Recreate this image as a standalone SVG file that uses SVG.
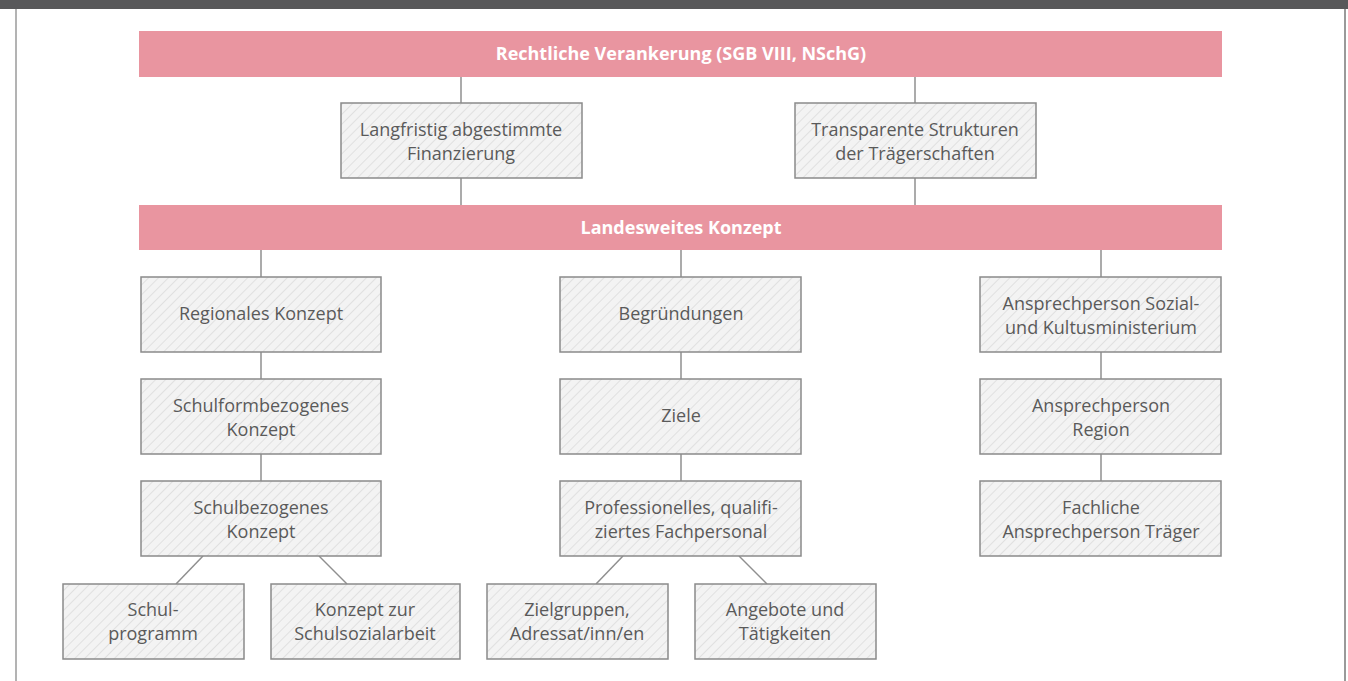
<svg xmlns="http://www.w3.org/2000/svg" width="1348" height="681" viewBox="0 0 1348 681">
<defs>
<pattern id="hatch" patternUnits="userSpaceOnUse" width="7" height="7" patternTransform="rotate(45)">
<rect width="7" height="7" fill="#f3f3f3"/>
<line x1="0" y1="0" x2="0" y2="7" stroke="#dcdcdc" stroke-width="1.6"/>
</pattern>
</defs>
<style>
.bar{fill:#e995a0}
.box{fill:url(#hatch);stroke:#8a8a8a;stroke-width:1.5}
.t{font-family:"Open Sans","Noto Sans",sans-serif;font-size:18px;fill:#5a5a5a;text-anchor:middle}
.bt{font-family:"Open Sans","Noto Sans",sans-serif;font-size:18px;font-weight:bold;fill:#ffffff;text-anchor:middle}
.c{stroke:#8f8f8f;stroke-width:1.5;fill:none}
</style>
<rect x="0" y="0" width="1348" height="681" fill="#ffffff"/>
<rect x="0" y="0" width="1348" height="9" fill="#58585a"/>
<rect x="15" y="9" width="2" height="672" fill="#b3b3b3"/>
<rect x="1344" y="9" width="2" height="672" fill="#9a9a9a"/>
<g id="connectors">
<line class="c" x1="461" y1="77" x2="461" y2="103"/>
<line class="c" x1="915" y1="77" x2="915" y2="103"/>
<line class="c" x1="461" y1="178" x2="461" y2="205"/>
<line class="c" x1="915" y1="178" x2="915" y2="205"/>
<line class="c" x1="261" y1="250" x2="261" y2="277"/>
<line class="c" x1="681" y1="250" x2="681" y2="277"/>
<line class="c" x1="1101" y1="250" x2="1101" y2="277"/>
<line class="c" x1="261" y1="352" x2="261" y2="379"/>
<line class="c" x1="261" y1="454" x2="261" y2="481"/>
<line class="c" x1="681" y1="352" x2="681" y2="379"/>
<line class="c" x1="681" y1="454" x2="681" y2="481"/>
<line class="c" x1="1101" y1="352" x2="1101" y2="379"/>
<line class="c" x1="1101" y1="454" x2="1101" y2="481"/>
<line class="c" x1="203" y1="556" x2="176" y2="584"/>
<line class="c" x1="319" y1="556" x2="347" y2="584"/>
<line class="c" x1="623" y1="556" x2="596" y2="584"/>
<line class="c" x1="739" y1="556" x2="767" y2="584"/>
</g>
<g id="n-recht"><rect class="bar" x="139" y="31" width="1083" height="46"/><text class="bt" x="681" y="60">Rechtliche Verankerung (SGB VIII, NSchG)</text></g>
<g id="n-finanz"><rect class="box" x="341" y="103" width="241" height="75"/><text class="t" x="461" y="136">Langfristig abgestimmte</text><text class="t" x="461" y="160">Finanzierung</text></g>
<g id="n-transp"><rect class="box" x="795" y="103" width="241" height="75"/><text class="t" x="915" y="136">Transparente Strukturen</text><text class="t" x="915" y="160">der Trägerschaften</text></g>
<g id="n-landes"><rect class="bar" x="139" y="205" width="1083" height="45"/><text class="bt" x="681" y="234">Landesweites Konzept</text></g>
<g id="n-regional"><rect class="box" x="141" y="277" width="240" height="75"/><text class="t" x="261" y="320">Regionales Konzept</text></g>
<g id="n-schulform"><rect class="box" x="141" y="379" width="240" height="75"/><text class="t" x="261" y="412">Schulformbezogenes</text><text class="t" x="261" y="436">Konzept</text></g>
<g id="n-schulbez"><rect class="box" x="141" y="481" width="240" height="75"/><text class="t" x="261" y="514">Schulbezogenes</text><text class="t" x="261" y="538">Konzept</text></g>
<g id="n-begr"><rect class="box" x="560" y="277" width="241" height="75"/><text class="t" x="681" y="320">Begründungen</text></g>
<g id="n-ziele"><rect class="box" x="560" y="379" width="241" height="75"/><text class="t" x="681" y="422">Ziele</text></g>
<g id="n-prof"><rect class="box" x="560" y="481" width="241" height="75"/><text class="t" x="681" y="514">Professionelles, qualifi-</text><text class="t" x="681" y="538">ziertes Fachpersonal</text></g>
<g id="n-ansp1"><rect class="box" x="980" y="277" width="241" height="75"/><text class="t" x="1101" y="310">Ansprechperson Sozial-</text><text class="t" x="1101" y="334">und Kultusministerium</text></g>
<g id="n-ansp2"><rect class="box" x="980" y="379" width="241" height="75"/><text class="t" x="1101" y="412">Ansprechperson</text><text class="t" x="1101" y="436">Region</text></g>
<g id="n-ansp3"><rect class="box" x="980" y="481" width="241" height="75"/><text class="t" x="1101" y="514">Fachliche</text><text class="t" x="1101" y="538">Ansprechperson Träger</text></g>
<g id="n-schulprog"><rect class="box" x="63" y="584" width="181" height="75"/><text class="t" x="153" y="616">Schul-</text><text class="t" x="153" y="640">programm</text></g>
<g id="n-konzept"><rect class="box" x="271" y="584" width="189" height="75"/><text class="t" x="365" y="616">Konzept zur</text><text class="t" x="365" y="640">Schulsozialarbeit</text></g>
<g id="n-ziel"><rect class="box" x="487" y="584" width="181" height="75"/><text class="t" x="577" y="616">Zielgruppen,</text><text class="t" x="577" y="640">Adressat/inn/en</text></g>
<g id="n-angebot"><rect class="box" x="695" y="584" width="181" height="75"/><text class="t" x="785" y="616">Angebote und</text><text class="t" x="785" y="640">Tätigkeiten</text></g>
</svg>
